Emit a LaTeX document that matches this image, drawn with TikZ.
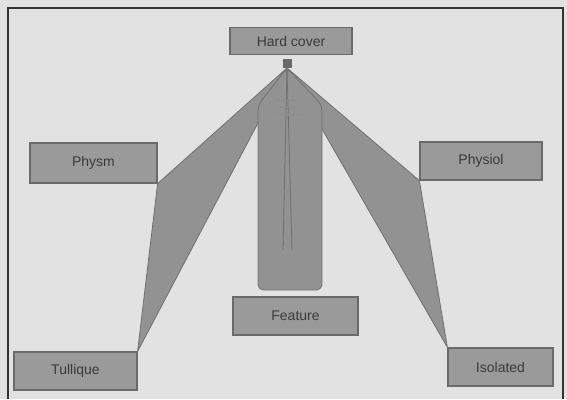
\documentclass[tikz,border=0pt]{standalone}
\usepackage{fontspec}
\setmainfont{Liberation Sans}
\definecolor{bg}{HTML}{E2E2E2}
\definecolor{boxfill}{HTML}{9A9A9A}
\definecolor{boxline}{HTML}{6A6A6A}
\definecolor{fanfill}{HTML}{929292}
\definecolor{fanline}{HTML}{707070}
\definecolor{txt}{HTML}{3A3A3A}
\begin{document}
\begin{tikzpicture}[x=1pt,y=-1pt,
  lbox/.style={draw=boxline,line width=1.2pt,fill=boxfill,inner sep=0pt,
    text=txt,font=\fontsize{14}{16}\selectfont},
  fan/.style={fill=fanfill,draw=fanline,line width=0.8pt,line join=round}]
\useasboundingbox (0,0) rectangle (567,399);
\fill[bg] (0,0) rectangle (567,399);
\draw[line width=2.5pt,color=black!80] (8,399) -- (8,8) -- (563,8) -- (563,399);
% boxes
\node[lbox,minimum width=122pt,minimum height=27pt] (top) at (291,41) {Hard cover};
\node[lbox,minimum width=127pt,minimum height=40pt] (left) at (93.5,163) {Physm};
\node[lbox,minimum width=122pt,minimum height=38pt] (right) at (481,161) {Physiol};
\node[lbox,minimum width=125pt,minimum height=38pt] (center) at (295.5,316) {Feature};
\node[lbox,minimum width=123pt,minimum height=38pt] (bl) at (75.5,371) {Tullique};
\node[lbox,minimum width=105pt,minimum height=38pt] (br) at (500.5,367) {Isolated};
% apex
\node[fill=boxline,minimum size=9pt,inner sep=0pt] (apex) at (287,63) {};
\coordinate (a) at (287,68);
% fans
\draw[fan] (a) -- (left.south east) -- (bl.north east) -- cycle;
\draw[fan] (a) -- (right.south west) -- (br.north west) -- cycle;
\draw[fan,rounded corners=6pt] (a) -- (258,105) -- (258,290) -- (322,290) -- (322,105) -- cycle;
% inner details
\draw[fanline,line width=0.8pt] (a) -- (283,250);
\draw[fanline,line width=0.8pt] (a) -- (292,250);
\draw[fanline!80,line width=0.8pt] (276,100) -- (298,100) (275,107) -- (299,107) (274,114) -- (300,114);
\end{tikzpicture}
\end{document}
